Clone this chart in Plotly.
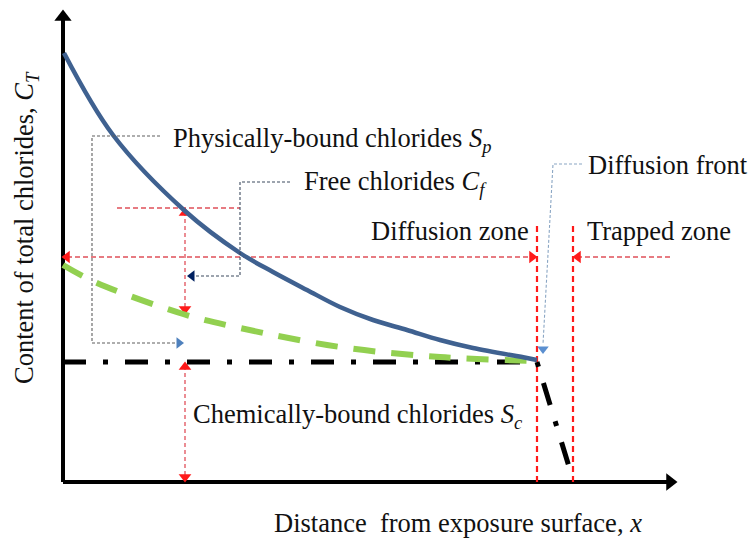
import plotly.graph_objects as go

# ---- schematic data (x: distance from surface, y: chloride content) ----
total_x = [1, 50, 122, 177, 210, 244, 277, 310, 344, 377, 410, 464, 474]
total_y = [429, 347, 271, 229, 210, 192, 175, 162, 152, 142, 134, 124, 122]

free_x = [0, 32, 120, 177, 277, 377, 474]
free_y = [217, 200, 168, 154, 135, 125, 121]

chem_x = [0, 474, 507]
chem_y = [120, 120, 12]

front_x = 474          # diffusion front
trap_x = 510           # start of trapped zone
zone_top = 259
zone_arrow_y = 225
axis_x_end = 614
axis_y_end = 472
probe_x = 122          # location of the vertical measurement arrows
probe_top = 274

FONT = "Liberation Serif"
FS = 26.5

fig = go.Figure()

def line(xs, ys, color, width, dash="solid", shape="linear"):
    fig.add_trace(go.Scatter(x=xs, y=ys, mode="lines", hoverinfo="skip",
                             line=dict(color=color, width=width, dash=dash, shape=shape)))

def head(x, y, symbol, color, size=11):
    fig.add_trace(go.Scatter(x=[x], y=[y], mode="markers", hoverinfo="skip",
                             marker=dict(symbol=symbol, color=color, size=size,
                                         line=dict(width=0))))

# axes
line([0, 0], [0, axis_y_end - 8], "black", 4)
line([0, axis_x_end - 8], [0, 0], "black", 4)
head(0, axis_y_end - 7, "triangle-up", "black", 15)
head(axis_x_end - 7, 0, "triangle-right", "black", 15)

# zone boundaries
RED = "#ff1a1a"
line([front_x, front_x], [0, zone_top], RED, 2.2, "6px,4px")
line([trap_x, trap_x], [0, zone_top], RED, 2.2, "6px,4px")

# horizontal zone arrows
PINK = "#e0505a"
line([4, front_x - 5], [zone_arrow_y, zone_arrow_y], PINK, 1.3, "5px,3px")
head(4, zone_arrow_y, "triangle-left", RED, 11)
head(front_x - 5, zone_arrow_y, "triangle-right", RED, 11)
line([607, trap_x + 5], [zone_arrow_y, zone_arrow_y], PINK, 1.3, "5px,3px")
head(trap_x + 5, zone_arrow_y, "triangle-left", RED, 11)

# measurement arrows at probe location
line([54, 177], [probe_top, probe_top], PINK, 1.3, "5px,3px")
line([probe_x, probe_x], [probe_top - 4, 172], PINK, 1.3, "4px,3px")
head(probe_x, probe_top - 5, "triangle-up", RED, 11)
head(probe_x, 173, "triangle-down", RED, 11)
line([probe_x, probe_x], [116, 4], PINK, 1.3, "4px,3px")
head(probe_x, 115, "triangle-up", RED, 11)
head(probe_x, 5, "triangle-down", RED, 11)

# curves
line(chem_x, chem_y, "black", 5, "23px,17px,5px,17px")
line(free_x, free_y, "#92d050", 6, "22px,16px", "spline")
line(total_x, total_y, "#3f6190", 4.5, "solid", "spline")

# leader lines
line([97, 29, 29, 114], [346, 346, 139, 139], "#5f5f5f", 1.1, "3px,2px")
head(116, 139, "triangle-right", "#4f81bd", 10)
line([227, 177, 177, 132], [300, 300, 206, 206], "#3d4a5e", 1.1, "3px,2px")
head(129, 206, "triangle-left", "#002060", 10)
line([519, 490, 480], [318, 318, 138], "#8aa6c4", 1.1, "3px,2px")
head(480, 133, "triangle-down", "#5b8fd0", 10)

def text(x, y, s, angle=0, xanchor="left"):
    fig.add_annotation(x=x, y=y, text=s, showarrow=False, xanchor=xanchor, yanchor="middle",
                       textangle=angle, font=dict(family=FONT, size=FS, color="#111111"))

text(108, 342, "Physically-bound chlorides <i>S</i><sub><i>p</i></sub>")
text(239, 299, "Free chlorides <i>C</i><sub><i>f</i></sub>")
text(523, 317, "Diffusion front")
text(306, 251, "Diffusion zone")
text(522, 251, "Trapped zone")
text(128, 66, "Chemically-bound chlorides <i>S</i><sub><i>c</i></sub>")
text(209, -41, "Distance  from exposure surface, <i>x</i>")
text(-37, 254, "Content of total chlorides, <i>C</i><sub><i>T</i></sub>", angle=-90, xanchor="center")

fig.update_layout(
    width=751, height=539, margin=dict(l=0, r=0, t=0, b=0),
    paper_bgcolor="white", plot_bgcolor="white", showlegend=False,
    xaxis=dict(range=[-63, 688], visible=False, fixedrange=True),
    yaxis=dict(range=[-57, 482], visible=False, fixedrange=True),
)

fig.write_html("out.html", config={"displayModeBar": False},
               post_script="document.body.style.margin='0';document.body.style.overflow='hidden';")
